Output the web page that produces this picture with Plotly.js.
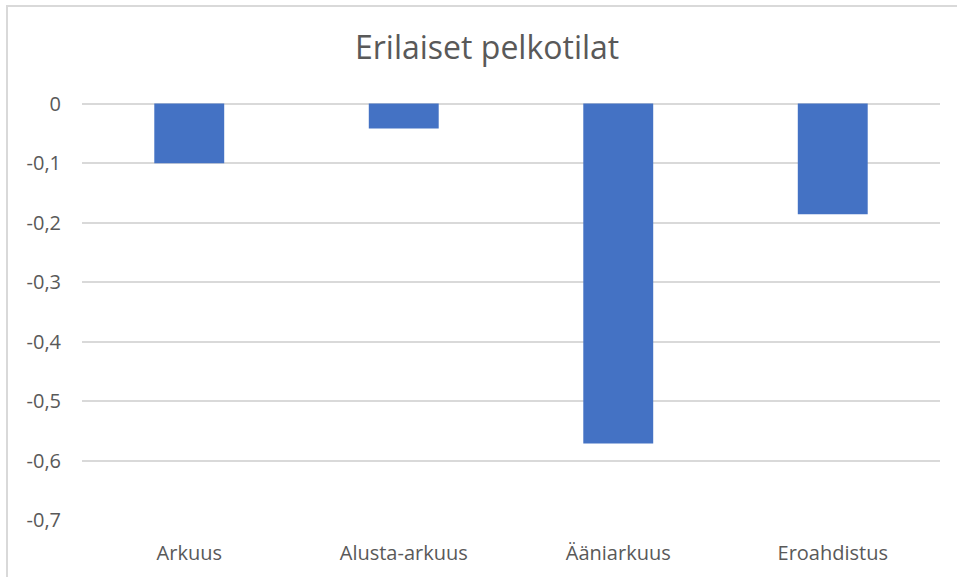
<!DOCTYPE html>
<html>
<head>
<meta charset="utf-8">
<script src="https://cdn.plot.ly/plotly-3.0.1.min.js"></script>
<style>
  html, body { margin: 0; padding: 0; background: #fff; overflow: hidden; }
  #frame { position: absolute; left: 6px; top: 5px; width: 1000px; height: 700px;
           border: 2px solid #d9d9d9; box-sizing: border-box; }
  #chart { position: absolute; left: 0; top: 0; width: 957px; height: 577px; }
</style>
</head>
<body>
<div id="frame"></div>
<div id="chart"></div>
<script>
  const categories = ["Arkuus", "Alusta-arkuus", "Ääniarkuus", "Eroahdistus"];
  const values = [-0.1, -0.042, -0.571, -0.186];
  const tickVals = [0, -0.1, -0.2, -0.3, -0.4, -0.5, -0.6, -0.7];
  const tickText = ["0", "-0,1", "-0,2", "-0,3", "-0,4", "-0,5", "-0,6", "-0,7"];

  const grey = "#595959";
  const gridCol = "#d9d9d9";
  const fam = "'Open Sans', Lato, sans-serif";

  const data = [{
    type: "bar",
    x: categories,
    y: values,
    marker: { color: "#4472c4" },
    hoverinfo: "none"
  }];

  const layout = {
    width: 957,
    height: 577,
    paper_bgcolor: "rgba(0,0,0,0)",
    plot_bgcolor: "rgba(0,0,0,0)",
    margin: { l: 82, r: 17, t: 103, b: 56, pad: 0 },
    font: { family: fam, color: grey, size: 20 },
    title: {
      text: "Erilaiset pelkotilat",
      font: { size: 32, color: grey, family: fam },
      xref: "container", x: 0.509, xanchor: "center",
      yref: "container", y: 0.918, yanchor: "middle"
    },
    bargap: 0.674,
    showlegend: false,
    xaxis: {
      type: "category",
      showgrid: false,
      showline: false,
      zeroline: false,
      ticks: "",
      ticklabelstandoff: 18,
      tickfont: { size: 20, color: grey }
    },
    yaxis: {
      range: [-0.701, 0.001],
      tickvals: tickVals,
      ticktext: tickText,
      showgrid: true,
      gridcolor: gridCol,
      gridwidth: 2,
      zeroline: true,
      zerolinecolor: gridCol,
      zerolinewidth: 2,
      showline: false,
      ticks: "",
      ticklabelstandoff: 20,
      tickfont: { size: 20, color: grey }
    }
  };

  Plotly.newPlot("chart", data, layout, { displayModeBar: false, staticPlot: true });
</script>
</body>
</html>
